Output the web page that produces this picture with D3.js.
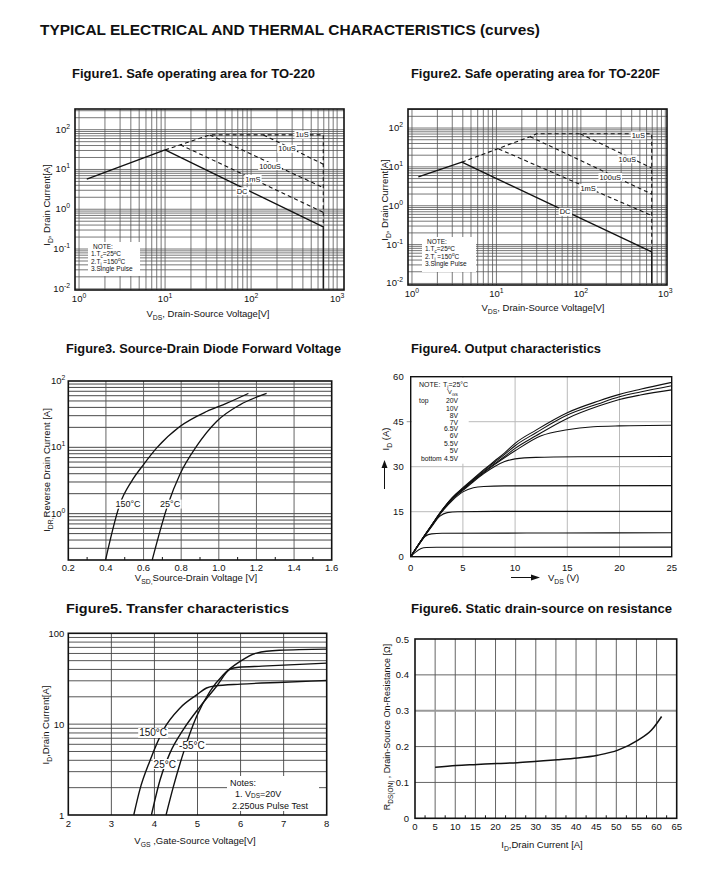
<!DOCTYPE html>
<html><head><meta charset="utf-8">
<script src="https://cdn.jsdelivr.net/npm/d3@7"></script>
<style>body{margin:0;background:#fff;}</style>
</head><body><script>
// ================= DATA =================
// Figure 1: SOA TO-220  [VDS (V), ID (A)]
const soa1DC     = [[1.23,5.7],[10,31],[690,0.36],[690,0.01]];
const soa1Limit  = [[10,31],[33,74],[690,74],[690,0.36]];
const soa1_10us  = [[139,74],[690,13.6]];
const soa1_100us = [[33,74],[690,3.5]];
const soa1_1ms   = [[15,42],[690,0.84]];
const soa1Labels = [["1uS",392,75.5],["10uS",262,33.3],["100uS",166,12.3],["1mS",105,5.8],["DC",78.6,2.86]];
// Figure 2: SOA TO-220F
const soa2DC     = [[1.19,5.5],[3.9,13.2],[690,0.065],[690,0.01]];
const soa2Limit  = [[3.9,13.2],[25,60],[30,71],[690,71],[690,0.065]];
const soa2_10us  = [[98,71],[690,9.4]];
const soa2_100us = [[25,60],[690,2.0]];
const soa2_1ms   = [[10.6,29],[690,0.56]];
const soa2Labels = [["1uS",480,64.7],["10uS",355,15.8],["100uS",223,5.5],["1mS",122,2.88],["DC",65,0.70]];
const soaXExp = [0,1,2,3];
const soaYExp = [-2,-1,0,1,2];
// Figure 3: diode forward voltage [VSD (V), IDR (A)]
const diode150 = [[0.398,0.2],[0.475,1.41],[0.537,3.1],[0.6,5.5],[0.67,9.8],[0.793,20.6],[0.935,34.7],[1.04,46],[1.157,65]];
const diode25  = [[0.646,0.2],[0.731,1.41],[0.793,3.9],[0.882,10.4],[0.988,24.5],[1.112,43.7],[1.254,65]];
const diodeXTicks = [0.2,0.4,0.6,0.8,1.0,1.2,1.4,1.6];
const diodeYExp = [0,1,2];
const diodeLabels = [["150°C",0.517,1.4],["25°C",0.741,1.4]];
// Figure 4: output characteristics [VDS (V), ID (A)]
const out20  = [[0,0],[1,5.4],[2,10.5],[3,15.5],[4,19.8],[5,23],[6,26],[7,29],[8,31.8],[9,34.6],[10,37.8],[12,42.2],[15,48],[18,51.9],[20,54.1],[22,55.8],[25,58.1]];
const out10  = [[0,0],[1,5.4],[2,10.5],[3,15.5],[4,19.7],[5,22.8],[6,25.8],[7,28.7],[8,31.4],[9,34.1],[10,37],[12,41.3],[15,47.2],[18,51],[20,53.3],[22,54.9],[25,57]];
const out8   = [[0,0],[1,5.4],[2,10.5],[3,15.4],[4,19.5],[5,22.5],[6,25.5],[7,28.3],[8,30.9],[9,33.4],[10,36.1],[12,40.3],[15,46.1],[18,50.2],[20,52.4],[22,53.9],[25,55.6]];
const out7   = [[0,0],[1,5.3],[2,10.4],[3,15.3],[4,19.4],[5,22.4],[6,25.3],[7,28],[8,30.6],[10,35.3],[12.5,40.3],[15,42.3],[17.5,43.3],[20,43.6],[25,43.8]];
const out65  = [[0,0],[1,5.3],[2,10.3],[3,15.2],[4,19.2],[5,22.1],[6,25],[7,27.7],[8,30],[9,31.7],[10,32.6],[12,33.1],[16,33.3],[25,33.4]];
const out6   = [[0,0],[1,5.2],[2,10.2],[3,15],[4,18.8],[5,21.6],[6,23],[7,23.4],[9,23.6],[25,23.7]];
const out55  = [[0,0],[1,5.2],[2,10],[2.8,13.5],[3.5,14.7],[4.5,15],[8,15.1],[25,15.1]];
const out5   = [[0,0],[0.8,4.2],[1.4,6.8],[2,7.6],[3,7.8],[14,7.9],[25,8]];
const out45  = [[0,0],[0.5,1.6],[1,2.7],[1.5,3.05],[2.5,3.15],[25,3.2]];
const outCurves = [out20,out10,out8,out7,out65,out6,out55,out5,out45];
const outVgsLabels = ["20V","10V","8V","7V","6.5V","6V","5.5V","5V","4.5V"];
const outXTicks = [0,5,10,15,20,25];
const outYTicks = [0,15,30,45,60];
// Figure 5: transfer characteristics [VGS (V), ID (A)]
const tr150 = [[3.52,1],[3.66,1.89],[3.9,4.0],[4.21,8.7],[4.59,15],[4.98,21],[5.21,25],[5.4,26.3],[6,27.6],[7,28.9],[8,30.2]];
const tr25  = [[3.93,1],[4.13,2.43],[4.36,4.8],[4.67,8.7],[5.06,15.6],[5.44,26],[5.75,40],[5.95,42.3],[6.5,43.5],[7,44.6],[8,47]];
const trM55 = [[4.27,1],[4.44,2.05],[4.67,4.8],[4.98,12.2],[5.29,23],[5.6,35],[5.99,49],[6.37,60.5],[6.9,65],[8,67]];
const trXTicks = [2,3,4,5,6,7,8];
const trYTicks = [1,10,100];
const trLabels = [["150°C",3.97,8.0],["-55°C",4.87,5.75],["25°C",4.24,3.64]];
// Figure 6: RDS(on) vs ID [ID (A), RDS(on) (ohm)]
const rdson = [[5,0.142],[10.25,0.147],[15.4,0.150],[20.4,0.153],[25.4,0.155],[30.4,0.159],[35.4,0.163],[40.4,0.168],[45.4,0.176],[50.4,0.19],[55.4,0.218],[58.75,0.246],[61.25,0.284]];
const rdsXTicks = [0,5,10,15,20,25,30,35,40,45,50,55,60,65];
const rdsYTicks = [0,0.1,0.2,0.3,0.4,0.5];

// ================= DRAWING =================
const svg = d3.select("body").append("svg").attr("width",723).attr("height",870)
  .style("display","block").style("font-family","'Liberation Sans', Arial, Helvetica, sans-serif");
svg.append("rect").attr("width",723).attr("height",870).attr("fill","#fff");
const INK = "#111";

function rich(g, x, y, parts, o={}) {
  const size = o.size || 10;
  const t = g.append("text").attr("x",x).attr("y",y).attr("font-size",size)
    .attr("text-anchor",o.anchor||"start").attr("fill",INK);
  if (o.weight) t.attr("font-weight",o.weight);
  if (o.len) t.attr("textLength",o.len).attr("lengthAdjust","spacingAndGlyphs");
  if (o.rotate) t.attr("transform",`rotate(-90 ${x} ${y})`);
  let cur = 0;
  parts.forEach(p => {
    const s = typeof p === "string" ? {t:p} : p;
    const off = s.sub ? size*(o.subOff||0.3) : s.sup ? -size*0.42 : 0;
    const sp = t.append("tspan").attr("dy", off-cur).text(s.t);
    if (s.sub || s.sup) sp.attr("font-size", size*0.72);
    cur = off;
  });
  return t;
}
function drawPath(g, data, x, y, o={}) {
  g.append("path").datum(data)
    .attr("d", d3.line().x(d=>x(d[0])).y(d=>y(d[1])).curve(o.curve||d3.curveLinear))
    .attr("fill","none").attr("stroke",INK).attr("stroke-width",o.w||1.2)
    .attr("stroke-dasharray",o.dash||null).attr("stroke-linejoin","round");
}
function boxedLabel(g, x, y, txt, size) {
  const t = g.append("text").attr("x",x).attr("y",y).attr("text-anchor","middle")
    .attr("dy","0.35em").attr("font-size",size).attr("fill",INK).text(txt);
  const b = t.node().getBBox();
  g.insert("rect", () => t.node()).attr("x",b.x-1).attr("y",b.y+0.5)
    .attr("width",b.width+2).attr("height",b.height-1).attr("fill","#fff");
}
function vgrid(g, vals, x, T, B, color, w) {
  g.selectAll(null).data(vals).join("line").attr("x1",d=>x(d)).attr("x2",d=>x(d))
    .attr("y1",T).attr("y2",B).attr("stroke",color).attr("stroke-width",w);
}
function hgrid(g, vals, y, L, R, color, w) {
  g.selectAll(null).data(vals).join("line").attr("y1",d=>y(d)).attr("y2",d=>y(d))
    .attr("x1",L).attr("x2",R).attr("stroke",color).attr("stroke-width",w);
}
function frame(g, L, T, R, B, w) {
  g.append("rect").attr("x",L).attr("y",T).attr("width",R-L).attr("height",B-T)
    .attr("fill","none").attr("stroke",INK).attr("stroke-width",w||1.5);
}

// Titles
rich(svg, 40, 35, ["TYPICAL ELECTRICAL AND THERMAL CHARACTERISTICS (curves)"], {size:14.5, weight:"bold", len:500});
const figTitles = [
  ["Figure1. Safe operating area for TO-220", 72, 78, 243],
  ["Figure2. Safe operating area for TO-220F", 411, 78, 249],
  ["Figure3. Source-Drain Diode Forward Voltage", 66, 353, 275],
  ["Figure4. Output characteristics", 411, 353, 190],
  ["Figure5. Transfer characteristics", 66, 613, 223],
  ["Figure6. Static drain-source on resistance", 411, 613, 261]];
figTitles.forEach(([t,x,y,len]) => rich(svg, x, y, [t], {size:13, weight:"bold", len:len}));

// ---------- SOA panels ----------
function soaPanel(c) {
  const g = svg.append("g");
  const x = d3.scaleLog().domain(c.xd).range([c.L,c.R]);
  const y = d3.scaleLog().domain(c.yd).range([c.B,c.T]);
  const xs=[], ys=[];
  for (let e=0;e<=3;e++) for (let m=1;m<=9;m++){const v=m*Math.pow(10,e); if(v>c.xd[0]&&v<c.xd[1]) xs.push(v);}
  for (let e=-2;e<=2;e++) for (let m=1;m<=9;m++){const v=m*Math.pow(10,e); if(v>c.yd[0]*1.001&&v<c.yd[1]) ys.push(v);}
  vgrid(g, xs, x, c.T, c.B, "#555", 0.8);
  hgrid(g, ys, y, c.L, c.R, "#555", 0.8);
  drawPath(g, c.limit, x, y, {dash:"4,3", w:1.1});
  drawPath(g, c.us10, x, y, {dash:"4,3", w:1.1});
  drawPath(g, c.us100, x, y, {dash:"4,3", w:1.1});
  drawPath(g, c.ms1, x, y, {dash:"4,3", w:1.1});
  drawPath(g, c.dc, x, y, {w:1.3});
  c.labels.forEach(([t,vx,vy]) => boxedLabel(g, x(vx), y(vy), t, 7.5));
  frame(g, c.L, c.T, c.R, c.B, 1.6);
  const nb = c.note;
  g.append("rect").attr("x",nb[0]).attr("y",nb[1]).attr("width",nb[2]).attr("height",nb[3]).attr("fill","#fff");
  const nx = nb[0]+3, ny = nb[1]+7, lh = 7.3;
  rich(g, nx+2, ny, ["NOTE:"], {size:6.5});
  rich(g, nx, ny+lh, ["1.T",{t:"c",sub:true},"=25",{t:"o",sup:true},"C"], {size:6.5});
  rich(g, nx, ny+2*lh, ["2.T",{t:"j",sub:true}," =150",{t:"o",sup:true},"C"], {size:6.5});
  rich(g, nx, ny+3*lh, ["3.Single Pulse"], {size:6.5});
  soaXExp.forEach(e => rich(g, x(Math.pow(10,e)), c.B+12, ["10",{t:String(e),sup:true}], {size:9.5, anchor:"middle"}));
  soaYExp.forEach(e => rich(g, c.L-5, y(Math.pow(10,e))+3, ["10",{t:String(e),sup:true}], {size:9.5, anchor:"end"}));
  rich(g, c.xtX, c.xtY, ["V",{t:"DS",sub:true},", Drain-Source Voltage[V]"], {size:9.5, anchor:"middle"});
  rich(g, c.ytX, c.ytY, ["I",{t:"D",sub:true},", Drain Current[A]"], {size:9.5, anchor:"middle", rotate:true});
}
soaPanel({L:75,R:344,T:109,B:290, xd:[Math.pow(10,-0.047),Math.pow(10,3.08)], yd:[Math.pow(10,-2.03),Math.pow(10,2.52)],
  dc:soa1DC, limit:soa1Limit, us10:soa1_10us, us100:soa1_100us, ms1:soa1_1ms, labels:soa1Labels,
  note:[88,242,52,34], xtX:208, xtY:317, ytX:50, ytY:205});
soaPanel({L:408,R:667,T:109,B:285, xd:[Math.pow(10,-0.047),Math.pow(10,3.02)], yd:[Math.pow(10,-2.04),Math.pow(10,2.49)],
  dc:soa2DC, limit:soa2Limit, us10:soa2_10us, us100:soa2_100us, ms1:soa2_1ms, labels:soa2Labels,
  note:[422,237,54,35], xtX:543, xtY:311, ytX:388, ytY:200});

// ---------- Figure 3 ----------
(function(){
  const L=68.3,R=331.7,T=381,B=560;
  const g = svg.append("g");
  const x = d3.scaleLinear().domain([0.2,1.6]).range([L,R]);
  const y = d3.scaleLog().domain([0.2,100]).range([B,T]);
  const ys=[];
  for (let e=-1;e<=1;e++) for (let m=1;m<=9;m++){const v=m*Math.pow(10,e); if(v>0.2001&&v<100) ys.push(v);}
  hgrid(g, ys, y, L, R, "#333", 0.9);
  vgrid(g, diodeXTicks.slice(1,-1), x, T, B, "#555", 0.9);
  const minor = d3.range(0.3,1.6,0.2);
  g.selectAll(null).data(minor).join("line").attr("x1",d=>x(d)).attr("x2",d=>x(d)).attr("y1",B).attr("y2",B-3)
    .attr("stroke",INK).attr("stroke-width",1);
  drawPath(g, diode150, x, y, {curve:d3.curveMonotoneX, w:1.3});
  drawPath(g, diode25, x, y, {curve:d3.curveMonotoneX, w:1.3});
  diodeLabels.forEach(([t,vx,vy]) => boxedLabel(g, x(vx), y(vy), t, 9));
  frame(g, L, T, R, B, 1.6);
  diodeXTicks.forEach(v => rich(g, x(v), B+11, [v.toFixed(1)], {size:9.5, anchor:"middle"}));
  diodeYExp.forEach(e => rich(g, L-3, y(Math.pow(10,e))+3, ["10",{t:String(e),sup:true}], {size:9.5, anchor:"end"}));
  rich(g, 196, 581, ["V",{t:"SD,",sub:true},"Source-Drain Voltage  [V]"], {size:9.5, anchor:"middle"});
  rich(g, 50, 470, ["I",{t:"DR,",sub:true},"Reverse Drain Current  [A]"], {size:9.5, anchor:"middle", rotate:true});
})();

// ---------- Figure 4 ----------
(function(){
  const L=410.7,R=671.7,T=376.7,B=556.7;
  const g = svg.append("g");
  const x = d3.scaleLinear().domain([0,25]).range([L,R]);
  const y = d3.scaleLinear().domain([0,60]).range([B,T]);
  vgrid(g, [5,10,15,20], x, T, B, "#bbb", 1);
  hgrid(g, [15,30,45], y, L, R, "#bbb", 1);
  outCurves.forEach(c => drawPath(g, c, x, y, {curve:d3.curveMonotoneX, w:1.1}));
  g.append("rect").attr("x",L+1).attr("y",T+1).attr("width",57).attr("height",86).attr("fill","#fff");
  rich(g, 419, 387, ["NOTE:"], {size:7});
  rich(g, 443, 387, ["T",{t:"j",sub:true},"=25°C"], {size:7});
  rich(g, 458, 394, ["V",{t:"GS",sub:true}], {size:6, anchor:"end"});
  const ly = [400.5,408,415,422,428.5,435.5,443,450.5,458.5];
  outVgsLabels.forEach((t,i) => rich(g, 458, ly[i]+2.5, [t], {size:6.8, anchor:"end"}));
  rich(g, 419, 403, ["top"], {size:6.8});
  rich(g, 421, 461, ["bottom"], {size:6.8});
  g.append("line").attr("x1",L-4).attr("x2",L).attr("y1",y(45)).attr("y2",y(45)).attr("stroke","#999");
  frame(g, L, T, R, B, 1.4);
  outXTicks.forEach(v => rich(g, x(v), B+14, [String(v)], {size:9.5, anchor:"middle"}));
  outYTicks.forEach(v => rich(g, L-7, y(v)+3.5, [String(v)], {size:9.5, anchor:"end"}));
  rich(g, 389, 439, ["I",{t:"D",sub:true}," (A)"], {size:9.5, anchor:"middle", rotate:true});
  g.append("line").attr("x1",384.5).attr("x2",384.5).attr("y1",489).attr("y2",466).attr("stroke",INK).attr("stroke-width",1);
  g.append("path").attr("d","M381.5,468 L384.5,460 L387.5,468 Z").attr("fill",INK);
  g.append("line").attr("x1",511).attr("x2",533).attr("y1",577.5).attr("y2",577.5).attr("stroke",INK).attr("stroke-width",1);
  g.append("path").attr("d","M531,574.5 L540,577.5 L531,580.5 Z").attr("fill",INK);
  rich(g, 548, 581, ["V",{t:"DS",sub:true}," (V)"], {size:9.5});
})();

// ---------- Figure 5 ----------
(function(){
  const L=68.3,R=326.7,T=633.3,B=815;
  const g = svg.append("g");
  const x = d3.scaleLinear().domain([2,8]).range([L,R]);
  const y = d3.scaleLog().domain([1,100]).range([B,T]);
  const ys=[];
  for (let e=0;e<=1;e++) for (let m=1;m<=9;m++){const v=m*Math.pow(10,e); if(v>1.001&&v<100) ys.push(v);}
  hgrid(g, ys, y, L, R, "#444", 0.9);
  vgrid(g, trXTicks.slice(1,-1), x, T, B, "#444", 0.9);
  [tr150, tr25, trM55].forEach(c => drawPath(g, c, x, y, {curve:d3.curveMonotoneX, w:1.4}));
  trLabels.forEach(([t,vx,vy]) => boxedLabel(g, x(vx), y(vy), t, 10));
  g.append("rect").attr("x",227).attr("y",776).attr("width",92).attr("height",35).attr("fill","#fff");
  rich(g, 230, 786, ["Notes:"], {size:9});
  rich(g, 235, 797, ["1. V",{t:"DS",sub:true},"=20V"], {size:9, subOff:0.15});
  rich(g, 232, 809, ["2.250us Pulse Test"], {size:9});
  frame(g, L, T, R, B, 1.6);
  trXTicks.forEach(v => rich(g, x(v), B+12, [String(v)], {size:9.5, anchor:"middle"}));
  trYTicks.forEach(v => rich(g, L-4, y(v)+4, [String(v)], {size:9.5, anchor:"end"}));
  rich(g, 195, 844, ["V",{t:"GS",sub:true}," ,Gate-Source Voltage[V]"], {size:9.5, anchor:"middle"});
  rich(g, 49, 725, ["I",{t:"D",sub:true},",Drain Current[A]"], {size:9.5, anchor:"middle", rotate:true});
})();

// ---------- Figure 6 ----------
(function(){
  const L=415,R=676.7,T=639,B=818.3;
  const g = svg.append("g");
  const x = d3.scaleLinear().domain([0,65]).range([L,R]);
  const y = d3.scaleLinear().domain([0,0.5]).range([B,T]);
  vgrid(g, rdsXTicks.slice(1,-1), x, T, B, "#555", 0.9);
  hgrid(g, [0.1,0.2,0.4], y, L, R, "#555", 0.9);
  hgrid(g, [0.3], y, L, R, "#999", 2);
  const minor = d3.range(2.5,65,5);
  g.selectAll(null).data(minor).join("line").attr("x1",d=>x(d)).attr("x2",d=>x(d)).attr("y1",B).attr("y2",B-3)
    .attr("stroke",INK).attr("stroke-width",1);
  drawPath(g, rdson, x, y, {curve:d3.curveMonotoneX, w:1.5});
  frame(g, L, T, R, B, 1.6);
  rdsXTicks.forEach(v => rich(g, x(v), B+12, [String(v)], {size:9.5, anchor:"middle"}));
  rdsYTicks.forEach(v => rich(g, L-6, y(v)+3.5, [v===0?"0":v.toFixed(1)], {size:9.5, anchor:"end"}));
  rich(g, 542, 848, ["I",{t:"D",sub:true},",Drain Current [A]"], {size:9.5, anchor:"middle"});
  rich(g, 390, 727, ["R",{t:"DS(ON)",sub:true}," , Drain-Source On-Resistance [Ω]"], {size:9, anchor:"middle", rotate:true});
})();
</script></body></html>
